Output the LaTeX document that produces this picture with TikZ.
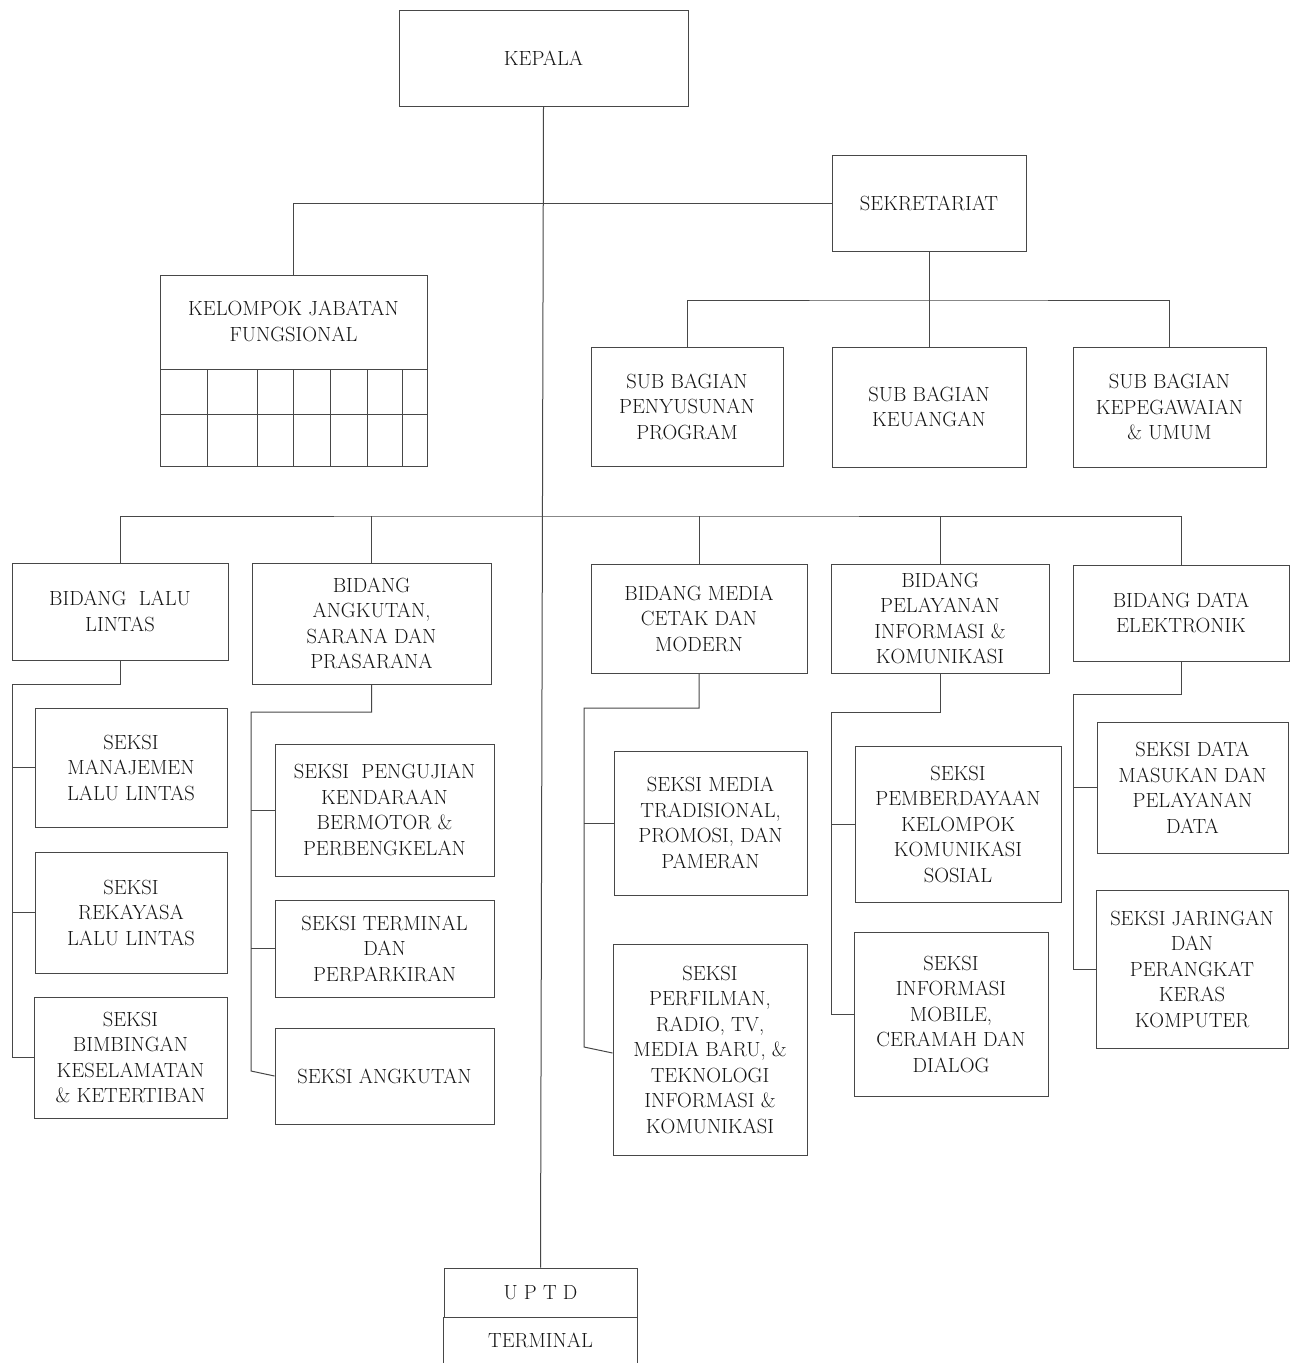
\documentclass[tikz,border=0pt]{standalone}
\usepackage{fontspec}
\begin{document}
\begin{tikzpicture}[x=1pt,y=-1pt,
  orgbox/.style={draw=black!72, line width=1pt, inner sep=0pt, align=center, text=black!92,
    font=\fontsize{20.5}{25.5}\selectfont},
  orgtext/.style={inner sep=0pt, align=center, text=black!92, font=\fontsize{20.5}{25.5}\selectfont},
  ln/.style={draw=black!72, line width=1pt}]
\fill[white] (0,0) rectangle (1300,1363);
\useasboundingbox (0,0) rectangle (1300,1363);

% top level
\node[orgbox, minimum width=289pt, minimum height=96pt] (kepala) at (543.5,58) {KEPALA};
\node[orgbox, minimum width=194pt, minimum height=96pt] (sek) at (929,203) {SEKRETARIAT};
\node[orgbox, minimum width=267pt, minimum height=191pt] (kjf) at (293.5,370.5) {};
\node[orgtext] (kjft) at (293.5,321.5) {KELOMPOK JABATAN\\FUNGSIONAL};
% grid of KJF
\draw[ln] (160,369) -- (427,369);
\draw[ln] (160,414) -- (427,414);
\foreach \gx in {207,257,293,330,367,402} {\draw[ln] (\gx,369) -- (\gx,466);}

% sub bagian
\node[orgbox, minimum width=192pt, minimum height=119pt] (sub1) at (687,406.5) {SUB BAGIAN\\PENYUSUNAN\\PROGRAM};
\node[orgbox, minimum width=194pt, minimum height=120pt] (sub2) at (929,407) {SUB BAGIAN\\KEUANGAN};
\node[orgbox, minimum width=193pt, minimum height=120pt] (sub3) at (1169.5,407) {SUB BAGIAN\\KEPEGAWAIAN\\\& UMUM};

% bidang
\node[orgbox, minimum width=216pt, minimum height=97pt] (b1) at (120,611.5) {BIDANG\hspace{0.6em}LALU\\LINTAS};
\node[orgbox, minimum width=239pt, minimum height=121pt] (b2) at (371.5,623.5) {BIDANG\\ANGKUTAN,\\SARANA DAN\\PRASARANA};
\node[orgbox, minimum width=216pt, minimum height=109pt] (b3) at (699,618.5) {BIDANG MEDIA\\CETAK DAN\\MODERN};
\node[orgbox, minimum width=218pt, minimum height=109pt] (b4) at (940,618.5) {BIDANG\\PELAYANAN\\INFORMASI \&\\KOMUNIKASI};
\node[orgbox, minimum width=216pt, minimum height=96pt] (b5) at (1181,613) {BIDANG DATA\\ELEKTRONIK};

% seksi
\node[orgbox, minimum width=192pt, minimum height=119pt] (s11) at (131,767.5) {SEKSI\\MANAJEMEN\\LALU LINTAS};
\node[orgbox, minimum width=192pt, minimum height=121pt] (s12) at (131,912.5) {SEKSI\\REKAYASA\\LALU LINTAS};
\node[orgbox, minimum width=193pt, minimum height=121pt] (s13) at (130.5,1057.5) {SEKSI\\BIMBINGAN\\KESELAMATAN\\\& KETERTIBAN};

\node[orgbox, minimum width=219pt, minimum height=132pt] (s21) at (384.5,810) {SEKSI\hspace{0.6em}PENGUJIAN\\KENDARAAN\\BERMOTOR \&\\PERBENGKELAN};
\node[orgbox, minimum width=219pt, minimum height=97pt] (s22) at (384.5,948.5) {SEKSI TERMINAL\\DAN\\PERPARKIRAN};
\node[orgbox, minimum width=219pt, minimum height=96pt] (s23) at (384.5,1076) {SEKSI ANGKUTAN};

\node[orgbox, minimum width=193pt, minimum height=144pt] (s31) at (710.5,823) {SEKSI MEDIA\\TRADISIONAL,\\PROMOSI, DAN\\PAMERAN};
\node[orgbox, minimum width=194pt, minimum height=211pt] (s32) at (710,1049.5) {SEKSI\\PERFILMAN,\\RADIO, TV,\\MEDIA BARU, \&\\TEKNOLOGI\\INFORMASI \&\\KOMUNIKASI};

\node[orgbox, minimum width=206pt, minimum height=156pt] (s41) at (958,824) {SEKSI\\PEMBERDAYAAN\\KELOMPOK\\KOMUNIKASI\\SOSIAL};
\node[orgbox, minimum width=194pt, minimum height=164pt] (s42) at (951,1014) {SEKSI\\INFORMASI\\MOBILE,\\CERAMAH DAN\\DIALOG};

\node[orgbox, minimum width=191pt, minimum height=131pt] (s51) at (1192.5,787.5) {SEKSI DATA\\MASUKAN DAN\\PELAYANAN\\DATA};
\node[orgbox, minimum width=192pt, minimum height=158pt] (s52) at (1192,969) {SEKSI JARINGAN\\DAN\\PERANGKAT\\KERAS\\KOMPUTER};

% UPTD
\node[orgbox, minimum width=193pt, minimum height=49pt] (uptd) at (540.5,1292.5) {U P T D};
\node[orgtext, minimum width=193pt, minimum height=46pt] (term) at (540.5,1340) {TERMINAL};
\draw[ln] ([yshift=-12pt]term.south west) -- (term.north west);
\draw[ln] ([yshift=-12pt]term.south east) -- (term.north east);

% connectors
\draw[ln] (kepala.south) -- (uptd.north);
\draw[ln] (kjf.north) |- (sek.west);
\coordinate (sj) at (929,300);
\draw[ln] (sek.south) -- (sj);
\draw[ln] (sub1.north) |- (sj) -| (sub3.north);
\draw[ln] (sj) -- (sub2.north);

\coordinate (bj) at (543,516);
\draw[ln] (b1.north) |- (bj) -| (b5.north);
\draw[ln] (b2.north) -- (b2.north |- bj);
\draw[ln] (b3.north) -- (b3.north |- bj);
\draw[ln] (b4.north) -- (b4.north |- bj);

\coordinate (t1) at (12,684);
\draw[ln] (b1.south) |- (t1) |- (s13.west);
\draw[ln] (s11.west) -- (s11.west -| t1);
\draw[ln] (s12.west) -- (s12.west -| t1);

\coordinate (t2) at (251,712);
\coordinate (t2b) at (251,1071);
\draw[ln] (b2.south) |- (t2) -- (t2b) -- (s23.west);
\draw[ln] (s21.west) -- (s21.west -| t2);
\draw[ln] (s22.west) -- (s22.west -| t2);

\coordinate (t3) at (584,708);
\coordinate (t3b) at (584,1047);
\draw[ln] (b3.south) |- (t3) -- (t3b) -- ([yshift=-3.5pt]s32.west);
\draw[ln] (s31.west) -- (s31.west -| t3);

\coordinate (t4) at (831,712);
\draw[ln] (b4.south) |- (t4) |- (s42.west);
\draw[ln] (s41.west) -- (s41.west -| t4);

\coordinate (t5) at (1073,694);
\draw[ln] (b5.south) |- (t5) |- (s52.west);
\draw[ln] (s51.west) -- (s51.west -| t5);
\end{tikzpicture}
\end{document}
